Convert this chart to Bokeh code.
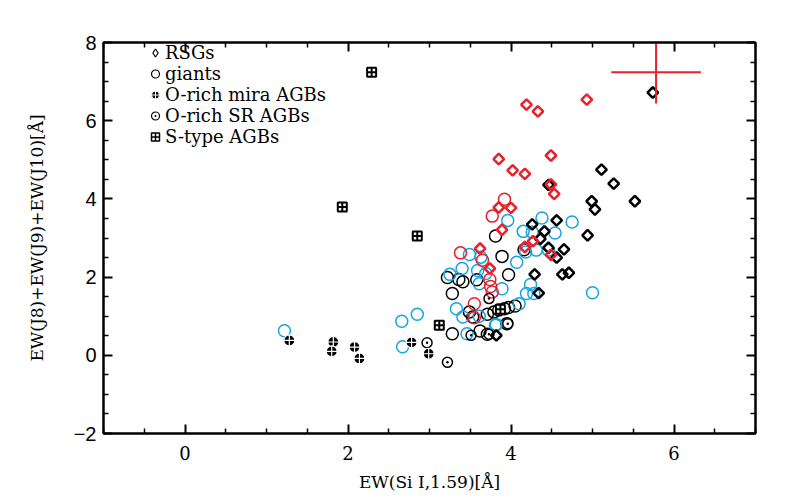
import numpy as np
from bokeh.plotting import figure
from bokeh.models import (FixedTicker, LinearAxis, Legend, LegendItem, Range1d,
                          CustomJSTickFormatter)
from bokeh.embed import file_html
from bokeh.resources import INLINE

# ---------------- data ----------------
# RSGs, black diamonds
rsg_blk_x = [5.74, 5.11, 5.26, 5.52, 4.99, 5.03, 4.46, 4.26, 4.56, 4.41, 4.36, 4.94,
             4.65, 4.46, 4.56, 4.29, 4.63, 4.71, 4.34, 3.82]
rsg_blk_y = [6.72, 4.75, 4.39, 3.94, 3.94, 3.73, 4.36, 3.35, 3.45, 3.17, 2.98, 3.07,
             2.71, 2.75, 2.50, 2.07, 2.07, 2.11, 1.59, 0.51]
# RSGs, red diamonds
rsg_red_x = [4.19, 4.33, 4.93, 3.85, 4.02, 4.17, 4.49, 4.49, 4.53, 3.85, 4.00, 3.89,
             4.27, 4.17, 4.49, 3.62, 3.74]
rsg_red_y = [6.41, 6.24, 6.54, 5.02, 4.73, 4.64, 5.11, 4.37, 4.13, 3.78, 3.77, 3.21,
             2.92, 2.77, 2.57, 2.73, 2.22]
# giants, black open circles
gi_blk_x = [3.81, 3.89, 4.16, 3.22, 3.36, 3.41, 3.58, 3.97, 3.28, 3.28, 3.49, 3.53,
            3.71, 3.79, 3.85, 3.92, 3.97, 4.05, 3.71, 3.95, 3.62]
gi_blk_y = [3.05, 2.53, 2.70, 1.99, 1.94, 1.88, 1.93, 2.06, 1.58, 0.55, 1.11, 0.98,
            1.05, 1.11, 1.16, 1.19, 1.22, 1.26, 0.54, 0.81, 0.62]
# giants, blue open circles
gi_blu_x = [1.22, 2.66, 2.85, 2.67, 4.38, 4.75, 3.96, 4.15, 4.26, 4.54, 4.18, 4.31,
            4.46, 4.07, 3.49, 3.63, 3.40, 3.25, 3.59, 3.61, 3.89, 4.24, 4.19, 4.28,
            5.00, 3.33, 3.41, 3.61, 4.10, 3.82, 3.69, 3.46, 3.81]
gi_blu_y = [0.63, 0.87, 1.05, 0.22, 3.51, 3.41, 3.45, 3.17, 3.15, 3.13, 2.64, 2.69,
            2.69, 2.38, 2.58, 2.51, 2.22, 2.07, 2.17, 1.83, 1.70, 1.81, 1.58, 1.58,
            1.60, 1.19, 0.98, 1.00, 1.32, 0.79, 2.09, 0.55, 0.77]
# giants, red open circles
gi_red_x = [3.92, 3.77, 3.38, 3.65, 3.74, 3.75, 3.77, 3.55, 3.55]
gi_red_y = [3.99, 3.56, 2.62, 2.43, 1.94, 1.76, 1.62, 1.32, 0.96]
# O-rich mira AGBs
mira_x = [1.28, 1.82, 1.80, 2.08, 2.14, 2.78, 2.99]
mira_y = [0.38, 0.34, 0.10, 0.21, -0.08, 0.33, 0.04]
# O-rich SR AGBs
sr_x = [2.97, 3.22, 3.51, 3.73, 3.73, 3.96]
sr_y = [0.32, -0.18, 0.51, 0.54, 1.45, 0.81]
# S-type AGBs
st_x = [2.29, 1.93, 2.85, 3.12, 3.87]
st_y = [7.24, 3.79, 3.05, 0.77, 1.18]
# typical error bar
err_x = [5.78]
err_y = [7.24]
err_dx = [0.55]
err_dy = [0.80]

x_ticks = [0, 2, 4, 6]
y_ticks = [-2, 0, 2, 4, 6, 8]
legend_labels = ["RSGs", "giants", "O-rich mira AGBs", "O-rich SR AGBs", "S-type AGBs"]

BLUE = "#14A5E2"
RED = "#E8212B"
SERIF = "DejaVu Serif"

p = figure(width=786, height=500, x_range=Range1d(-1, 7), y_range=Range1d(-2, 8),
           output_backend="svg", toolbar_location=None,
           x_axis_location=None, y_axis_location=None,
           min_border_left=103, min_border_right=31, min_border_top=42,
           min_border_bottom=67)
# an off-screen x range: the key's symbols are drawn from it, so only the legend shows them
p.extra_x_ranges = {"key": Range1d(1000, 1001)}
p.xgrid.visible = False
p.ygrid.visible = False
p.outline_line_color = "black"
p.outline_line_width = 2
p.background_fill_color = "white"
p.border_fill_color = "white"

xminor = [v / 2 for v in range(-2, 15) if v % 4 != 0]
yminor = [v / 2 for v in range(-4, 17) if v % 4 != 0]
xt = FixedTicker(ticks=x_ticks, minor_ticks=xminor)
yt = FixedTicker(ticks=y_ticks, minor_ticks=yminor)

bottom = LinearAxis(ticker=xt)
left = LinearAxis(ticker=yt)
top = LinearAxis(ticker=xt, formatter=CustomJSTickFormatter(code="return ''"))
right = LinearAxis(ticker=yt, formatter=CustomJSTickFormatter(code="return ''"))
p.add_layout(bottom, "below")
p.add_layout(left, "left")
p.add_layout(top, "above")
p.add_layout(right, "right")

for ax in [bottom, left, top, right]:
    ax.axis_line_width = 2
    ax.axis_line_color = "black"
    ax.major_tick_line_width = 2
    ax.minor_tick_line_width = 1.5
    ax.major_tick_in = 9
    ax.major_tick_out = 0
    ax.minor_tick_in = 5
    ax.minor_tick_out = 0
    ax.major_label_text_color = "black"

bottom.axis_label = "EW(Si I,1.59)[Å]"
left.axis_label = "EW(J8)+EW(J9)+EW(J10)[Å]"
for ax in [bottom, left]:
    ax.axis_label_text_font = SERIF
    ax.axis_label_text_font_size = "17px"
    ax.axis_label_text_font_style = "normal"
    ax.axis_label_text_color = "black"
bottom.major_label_text_font = SERIF
bottom.major_label_text_font_size = "18px"
bottom.major_label_standoff = 12
bottom.axis_label_standoff = 9
left.major_label_text_font = "Liberation Sans"
left.major_label_text_font_size = "20px"
left.major_label_standoff = 7
left.axis_label_standoff = 24
left.major_label_orientation = "horizontal"

# ---------------- glyphs ----------------
r_gb = p.scatter(gi_blk_x, gi_blk_y, marker="circle", size=12, fill_color=None,
                 line_color="black", line_width=1.5)
r_gu = p.scatter(gi_blu_x, gi_blu_y, marker="circle", size=12, fill_color=None,
                 line_color=BLUE, line_width=1.5)
r_gr = p.scatter(gi_red_x, gi_red_y, marker="circle", size=12, fill_color=None,
                 line_color=RED, line_width=1.5)
r_sr = p.scatter(sr_x, sr_y, marker="circle_dot", size=10, fill_color=None,
                 line_color="black", line_width=1.5)
r_mi = p.scatter(mira_x, mira_y, marker="circle_cross", size=11, fill_color="black",
                 line_color="white", line_width=1.2)
r_st = p.scatter(st_x, st_y, marker="square_cross", size=9, fill_color="white",
                 line_color="black", line_width=2)
r_db = p.scatter(rsg_blk_x, rsg_blk_y, marker="square", angle=np.pi / 4, size=7.5,
                 fill_color=None, line_color="black", line_width=2.5)
r_dr = p.scatter(rsg_red_x, rsg_red_y, marker="square", angle=np.pi / 4, size=7.5,
                 fill_color=None, line_color=RED, line_width=2.5)

ex = np.array(err_x); ey = np.array(err_y)
edx = np.array(err_dx); edy = np.array(err_dy)
p.segment(x0=ex - edx, y0=ey, x1=ex + edx, y1=ey, line_color=RED, line_width=2)
p.segment(x0=ex, y0=ey - edy, x1=ex, y1=ey + edy, line_color=RED, line_width=2)

# key symbols: same series on the off-screen range, thin outlines as in the key
k_dia = p.scatter(rsg_blk_x, rsg_blk_y, marker="diamond", fill_color=None,
                  line_color="black", line_width=1.2, x_range_name="key")
k_cir = p.scatter(gi_blk_x, gi_blk_y, marker="circle", fill_color=None,
                  line_color="black", line_width=1.2, x_range_name="key")
k_mi = p.scatter(mira_x, mira_y, marker="circle_cross", fill_color="black",
                 line_color="white", line_width=1.0, x_range_name="key")
k_sr = p.scatter(sr_x, sr_y, marker="circle_dot", fill_color=None,
                 line_color="black", line_width=1.2, x_range_name="key")
k_st = p.scatter(st_x, st_y, marker="square_cross", fill_color="white",
                 line_color="black", line_width=1.5, x_range_name="key")

legend = Legend(items=[LegendItem(label=lab, renderers=[r])
                       for lab, r in zip(legend_labels, [k_dia, k_cir, k_mi, k_sr, k_st])],
                location=(42, 286))
legend.background_fill_alpha = 0
legend.border_line_color = None
legend.padding = 0
legend.margin = 0
legend.spacing = 0
legend.label_height = 21
legend.glyph_height = 21
legend.glyph_width = 20
legend.label_standoff = -2
legend.label_text_font = SERIF
legend.label_text_font_size = "18px"
legend.label_text_color = "black"
p.add_layout(legend)

open("out.html", "w").write(file_html(p, INLINE))
